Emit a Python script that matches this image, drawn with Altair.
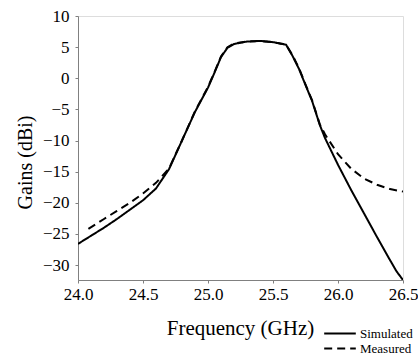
import altair as alt
import pandas as pd

sim_freq = [24.0, 24.1, 24.2, 24.3, 24.4, 24.5, 24.6, 24.7, 24.8, 24.9, 25.0, 25.05, 25.1, 25.15,
            25.2, 25.3, 25.4, 25.5, 25.6, 25.65, 25.7, 25.76, 25.8, 25.86, 25.9, 26.0, 26.1, 26.2,
            26.3, 26.4, 26.45, 26.5]
sim_gain = [-26.6, -25.3, -24.0, -22.6, -21.1, -19.6, -17.7, -14.6, -10.0, -5.4, -1.5, 0.9, 3.4, 4.9,
            5.5, 5.9, 6.0, 5.8, 5.4, 3.6, 1.5, -1.6, -3.6, -7.5, -9.6, -13.9, -17.9, -21.7,
            -25.5, -29.2, -31.0, -32.4]

meas_freq = [24.08, 24.2, 24.3, 24.4, 24.5, 24.6, 24.7, 24.8, 24.9, 25.0, 25.05, 25.1, 25.15,
             25.2, 25.3, 25.4, 25.5, 25.6, 25.65, 25.7, 25.76, 25.8, 25.86, 25.9, 26.0, 26.1, 26.2,
             26.3, 26.4, 26.5]
meas_gain = [-24.2, -22.6, -21.3, -20.0, -18.5, -16.8, -14.5, -10.0, -5.3, -1.4, 1.0, 3.5, 5.0,
             5.6, 5.9, 6.0, 5.8, 5.4, 3.7, 1.6, -1.5, -3.5, -7.4, -9.0, -12.2, -14.5, -16.1,
             -17.1, -17.8, -18.2]

series_names = ["Simulated", "Measured"]

df = pd.concat([
    pd.DataFrame({"freq": sim_freq, "gain": sim_gain, "series": series_names[0], "order": range(len(sim_freq))}),
    pd.DataFrame({"freq": meas_freq, "gain": meas_gain, "series": series_names[1], "order": range(len(meas_freq))}),
])

FONT = "Liberation Serif"

axis_style = dict(labelFont=FONT, titleFont=FONT, labelFontSize=17, labelColor="black",
                  titleColor="black", titleFontWeight="normal", domainColor="#808080",
                  tickColor="#808080", grid=False, tickSize=3, labelFlush=False)

chart = alt.Chart(df).mark_line(color="black", strokeWidth=2, clip=True).encode(
    x=alt.X("freq:Q",
            scale=alt.Scale(domain=[24.0, 26.5], nice=False, zero=False),
            axis=alt.Axis(title="Frequency (GHz)", values=[24.0, 24.5, 25.0, 25.5, 26.0, 26.5],
                          format=".1f", labelPadding=3,
                          titleX=162, titleY=54, titleBaseline="alphabetic",
                          titleFontSize=21, **axis_style)),
    y=alt.Y("gain:Q",
            scale=alt.Scale(domain=[-32.4, 10], nice=False, zero=False),
            axis=alt.Axis(title="Gains (dBi)", values=[10, 5, 0, -5, -10, -15, -20, -25, -30],
                          labelPadding=6,
                          titleX=-53, titleY=146, titleAngle=-90, titleBaseline="middle",
                          titleFontSize=20, **axis_style)),
    strokeDash=alt.StrokeDash("series:N",
                              scale=alt.Scale(domain=series_names, range=[[1, 0], [8, 5]]),
                              legend=alt.Legend(title=None, orient="none", legendX=245, legendY=310,
                                                symbolType="stroke", symbolSize=1000,
                                                symbolStrokeColor="black", symbolStrokeWidth=2,
                                                labelFont=FONT, labelFontSize=13, labelColor="black",
                                                clipHeight=15, rowPadding=0, labelOffset=3)),
    order="order:Q",
).properties(
    width=325, height=264,
    autosize=alt.AutoSizeParams(type="none"),
    padding={"left": 78, "top": 16, "right": 15, "bottom": 78},
).configure_view(
    stroke="#808080", strokeWidth=1
).configure(
    font=FONT
)

chart.save("out.html", embed_options={"renderer": "svg", "actions": False})
